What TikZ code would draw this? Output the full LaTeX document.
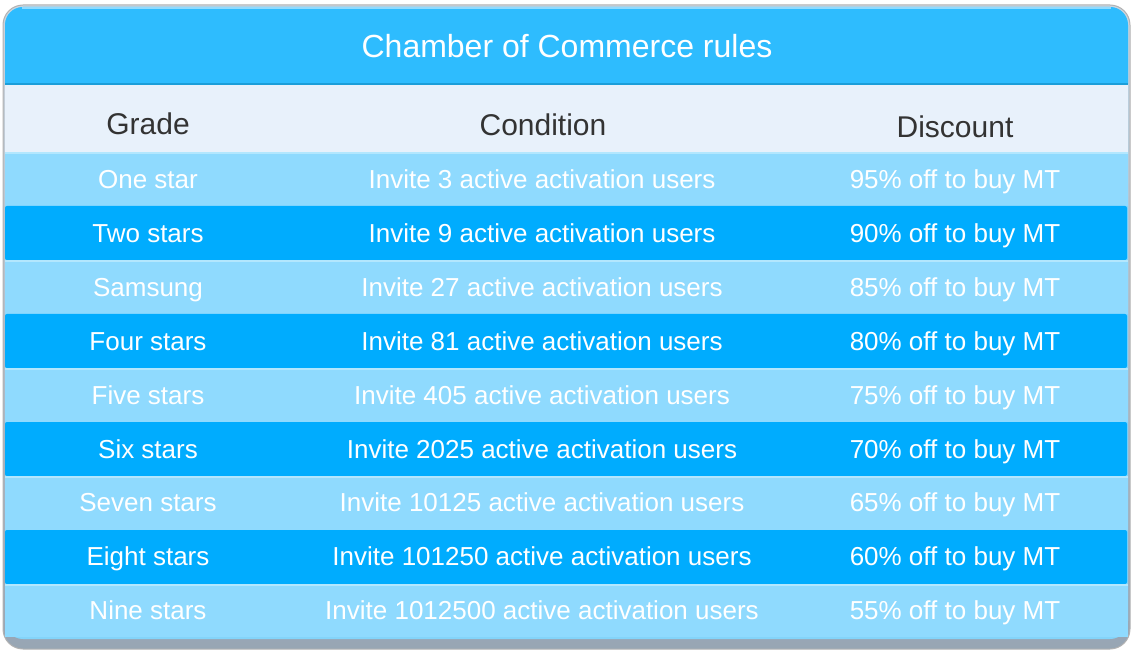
\documentclass[tikz,border=0pt]{standalone}
\usepackage{fontspec}
\setmainfont{Liberation Sans}
\usepackage{tikz}
\usetikzlibrary{calc}
\definecolor{titleblue}{HTML}{2EBCFE}
\definecolor{titleline}{HTML}{1B9ED9}
\definecolor{headbg}{HTML}{E8F1FB}
\definecolor{lightrow}{HTML}{8FDAFE}
\definecolor{darkrow}{HTML}{00ACFE}
\definecolor{rowline}{HTML}{B3E7FE}
\definecolor{framegray}{HTML}{A8B8C8}
\definecolor{headtxt}{HTML}{333333}
\newcommand{\lightband}[2]{ \fill[lightrow] (5,#1) rectangle (1128,#2); \draw[rowline, line width=1.5pt] (5,#1+1) -- (1128,#1+1);}
\newcommand{\darkband}[2]{ \fill[darkrow, rounded corners=2pt] (5,#1) rectangle (1127,#2);}
\newcommand{\rowlabels}[5]{
  \node[rowtxt] (grade#1) at (148,#2) {#3};
  \node[rowtxt] (cond#1) at (542,#2) {#4};
  \node[rowtxt] (disc#1) at (955,#2) {#5};}

\begin{document}
\begin{tikzpicture}[x=1pt, y=-1pt,
    rowtxt/.style={anchor=base, text=white, inner sep=0pt, font=\fontsize{26}{30}\selectfont},
    headtext/.style={anchor=base, text=headtxt, inner sep=0pt, font=\fontsize{30}{34}\selectfont}]
        \useasboundingbox (0,0) rectangle (1133,652);
        % frame
        \shade[top color=framegray!60, bottom color=framegray!90!black, rounded corners=20pt] (3,5) rectangle (1130,649);
        \draw[gray!60, line width=1pt, rounded corners=20pt] (3,5) rectangle (1130,649);
        \fill[lightrow!90!titleline, rounded corners=18pt] (5,7) rectangle (1128,639);
        % title band
        \fill[titleblue] (5,84) [rounded corners=18pt] -- (5,7) -- (1128,7) [sharp corners] -- (1128,84) -- cycle;
        \draw[lightrow, line width=1.5pt] (22,8) -- (1111,8);
        \draw[titleline, line width=2pt] (5,84) -- (1128,84);
        % header band
        \fill[headbg] (5,85) rectangle (1128,152);
        % rows
        \lightband{152}{206}
        \darkband{206}{260}
        \lightband{260}{314}
        \darkband{314}{368}
        \lightband{368}{422}
        \darkband{422}{476}
        \lightband{476}{530}
        \darkband{530}{584}
        \lightband{584}{637}
        % title
        \node[anchor=base, text=white, inner sep=0pt, font=\fontsize{32}{37}\selectfont] (title) at (567,57.5) {Chamber of Commerce rules};
        % header labels
        \node[headtext] (hgrade) at (148,134.5) {Grade};
        \node[headtext] (hcond) at (543,135.5) {Condition};
        \node[headtext] (hdisc) at (955,137.5) {Discount};
        % row labels
        \rowlabels{1}{189}{One star}{Invite 3 active activation users}{95\% off to buy MT}
        \rowlabels{2}{242.8}{Two stars}{Invite 9 active activation users}{90\% off to buy MT}
        \rowlabels{3}{296.6}{Samsung}{Invite 27 active activation users}{85\% off to buy MT}
        \rowlabels{4}{350.4}{Four stars}{Invite 81 active activation users}{80\% off to buy MT}
        \rowlabels{5}{404.2}{Five stars}{Invite 405 active activation users}{75\% off to buy MT}
        \rowlabels{6}{458}{Six stars}{Invite 2025 active activation users}{70\% off to buy MT}
        \rowlabels{7}{511.8}{Seven stars}{Invite 10125 active activation users}{65\% off to buy MT}
        \rowlabels{8}{565.6}{Eight stars}{Invite 101250 active activation users}{60\% off to buy MT}
        \rowlabels{9}{619.4}{Nine stars}{Invite 1012500 active activation users}{55\% off to buy MT}
\end{tikzpicture}
\end{document}
